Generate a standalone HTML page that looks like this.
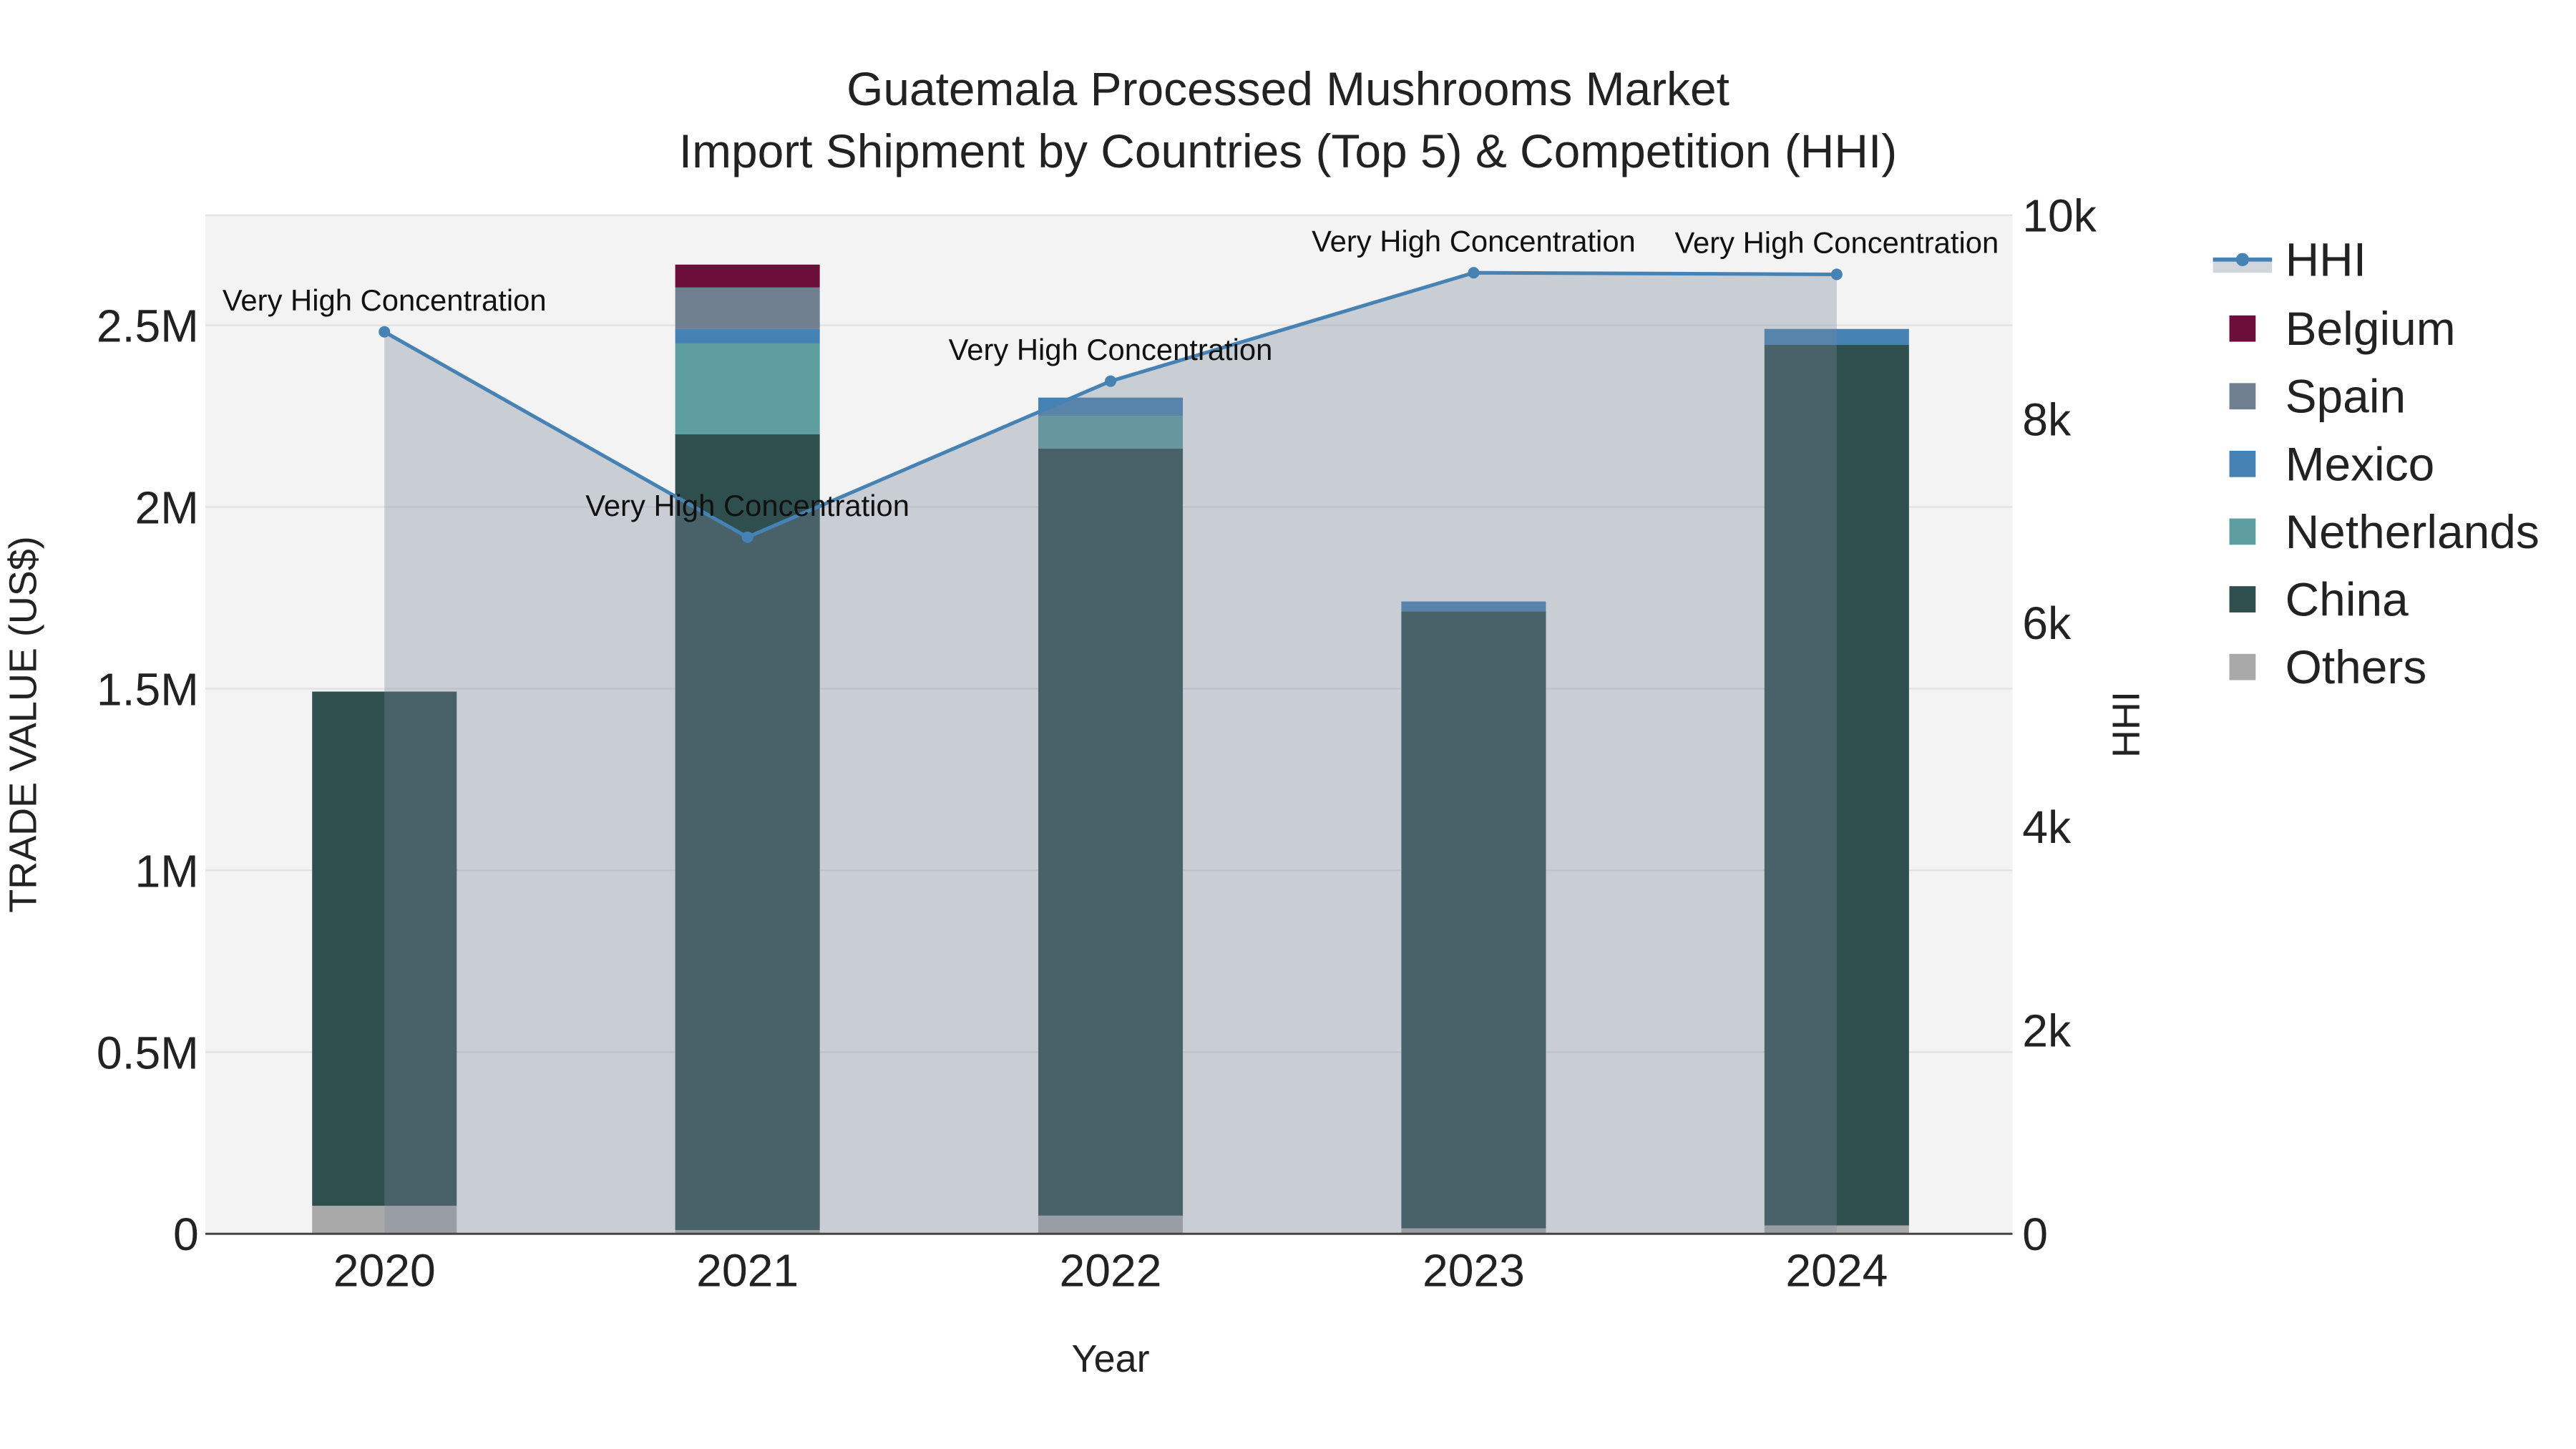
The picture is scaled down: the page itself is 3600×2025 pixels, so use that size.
<!DOCTYPE html>
<html><head><meta charset="utf-8">
<style>
html,body{margin:0;padding:0;background:#fff;}
svg{display:block;font-family:"Liberation Sans",Arial,sans-serif;}
</style></head>
<body>
<svg id="chart" width="3600" height="2025" viewBox="0 0 1568 882" xmlns="http://www.w3.org/2000/svg">
<rect x="0" y="0" width="1568" height="882" fill="#fff"/>
<rect x="125" y="131" width="1100" height="620" fill="#f3f3f3"/>
<g id="grid"></g>
<g id="bars"></g>
<g id="hhi"></g>
<g id="axes"></g>
<text x="784" y="64" font-size="28.7" text-anchor="middle" fill="#222">Guatemala Processed Mushrooms Market</text>
<text x="784" y="102" font-size="28.7" text-anchor="middle" fill="#222">Import Shipment by Countries (Top 5) &amp; Competition (HHI)</text>
<text x="676" y="835" font-size="23.5" text-anchor="middle" fill="#222">Year</text>
<text transform="translate(22,441) rotate(-90)" font-size="23.5" text-anchor="middle" fill="#222">TRADE VALUE (US$)</text>
<text transform="translate(1302,441) rotate(-90)" font-size="23.5" text-anchor="middle" fill="#222">HHI</text>
<g id="legend"></g>
</svg>
<script>
const years = ["2020","2021","2022","2023","2024"];
const others = [0.077, 0.01, 0.05, 0.015, 0.023];
const china = [1.415, 2.19, 2.111, 1.698, 2.423];
const netherlands = [0, 0.25, 0.09, 0, 0];
const mexico = [0, 0.04, 0.05, 0.027, 0.044];
const spain = [0, 0.114, 0, 0, 0];
const belgium = [0, 0.063, 0, 0, 0];
const hhi = [8855, 6839, 8371, 9435, 9419];
const leftTicks = [0, 0.5, 1, 1.5, 2, 2.5];
const leftTickLabels = ["0", "0.5M", "1M", "1.5M", "2M", "2.5M"];
const rightTicks = [0, 2000, 4000, 6000, 8000, 10000];
const rightTickLabels = ["0", "2k", "4k", "6k", "8k", "10k"];
const annotation = "Very High Concentration";

const NS = "http://www.w3.org/2000/svg";
const x0 = 234, dx = 221, barW = 88, yBase = 751;
const xPos = i => x0 + i * dx;
const yL = v => yBase - v * 221.2;
const yR = v => yBase - v * 0.062;
function mk(tag, attrs, parent, txt) {
  const e = document.createElementNS(NS, tag);
  for (const k in attrs) e.setAttribute(k, attrs[k]);
  if (txt !== undefined) e.textContent = txt;
  parent.appendChild(e);
  return e;
}
const grid = document.getElementById('grid');
leftTicks.forEach((t, i) => {
  if (t === 0) return;
  const l = mk('line', {x1:125, x2:1225, y1:yL(t), y2:yL(t), stroke:'#e2e2e2', 'stroke-width':1}, grid);
  
  
});
mk('line', {x1:125, x2:1225, y1:131, y2:131, stroke:'#e2e2e2', 'stroke-width':1}, grid);

const series = [
  {name:'Others', vals:others, color:'#a9a9a9'},
  {name:'China', vals:china, color:'#2f4f4f'},
  {name:'Netherlands', vals:netherlands, color:'#5f9ea0'},
  {name:'Mexico', vals:mexico, color:'#4682b4'},
  {name:'Spain', vals:spain, color:'#708090'},
  {name:'Belgium', vals:belgium, color:'#6b0f3a'}
];
const bars = document.getElementById('bars');
years.forEach((y, i) => {
  let cum = 0;
  series.forEach(s => {
    const v = s.vals[i];
    if (v <= 0) return;
    const top = yL(cum + v), bot = yL(cum);
    const r = mk('rect', {x:xPos(i) - barW/2, y:top, width:barW, height:bot - top, fill:s.color}, bars);
    
    
    cum += v;
  });
});

const hg = document.getElementById('hhi');
let area = 'M' + xPos(0) + ',' + yBase;
hhi.forEach((v, i) => { area += ' L' + xPos(i) + ',' + yR(v); });
area += ' L' + xPos(hhi.length - 1) + ',' + yBase + ' Z';
const ar = mk('path', {d:area, fill:'rgba(124,134,154,0.35)'}, hg);


const pts = hhi.map((v, i) => xPos(i) + ',' + yR(v)).join(' ');
const pl = mk('polyline', {points:pts, fill:'none', stroke:'#4682b4', 'stroke-width':2.2}, hg);


hhi.forEach((v, i) => {
  const c = mk('circle', {cx:xPos(i), cy:yR(v), r:3.5, fill:'#4682b4'}, hg);
  
  
  const t = mk('text', {x:xPos(i), y:yR(v) - 13, 'font-size':18.2, 'text-anchor':'middle', fill:'#111'}, hg, annotation);
  
  
});

const ax = document.getElementById('axes');
mk('line', {x1:125, x2:1225, y1:yBase, y2:yBase, stroke:'#444', 'stroke-width':1.3}, ax);
leftTicks.forEach((t, i) => {
  const e = mk('text', {x:121, y:yL(t) + 10, 'font-size':28, 'text-anchor':'end', fill:'#222'}, ax, leftTickLabels[i]);
  
  
});
rightTicks.forEach((t, i) => {
  const e = mk('text', {x:1231, y:yR(t) + 10, 'font-size':28, 'text-anchor':'start', fill:'#222'}, ax, rightTickLabels[i]);
  
  
});
years.forEach((y, i) => {
  const e = mk('text', {x:xPos(i), y:783, 'font-size':28, 'text-anchor':'middle', fill:'#222'}, ax, y);
  
  
});

const lg = document.getElementById('legend');
const hl = mk('rect', {x:1347, y:158, width:36, height:8, fill:'rgba(124,134,154,0.35)'}, lg);


mk('line', {x1:1347, x2:1383, y1:158, y2:158, stroke:'#4682b4', 'stroke-width':2.5}, lg);
mk('circle', {cx:1365, cy:158, r:4, fill:'#4682b4'}, lg);
const ht = mk('text', {x:1391, y:168, 'font-size':28.7, fill:'#222'}, lg, 'HHI');


const legendOrder = ['Belgium','Spain','Mexico','Netherlands','China','Others'];
legendOrder.forEach((n, i) => {
  const s = series.find(q => q.name === n);
  const y = 200 + i * 41.2;
  const sw = mk('rect', {x:1357, y:y - 8, width:16, height:16, fill:s.color}, lg);
  
  
  const t = mk('text', {x:1391, y:y + 10, 'font-size':28.7, fill:'#222'}, lg, n);
  
  
});
</script>
</body></html>
